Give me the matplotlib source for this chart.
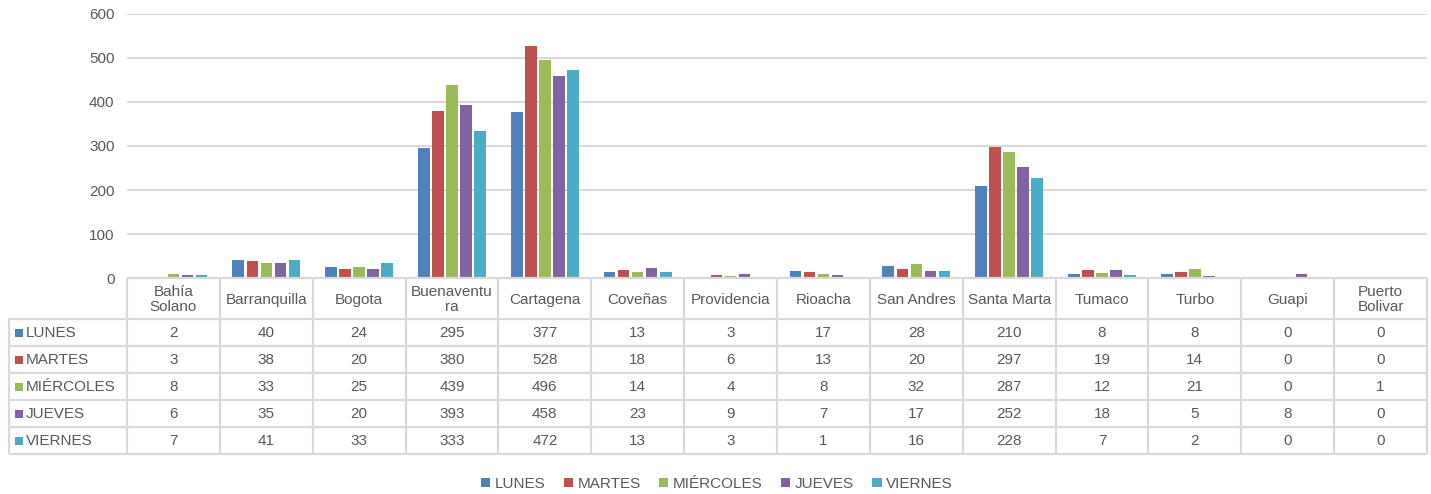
import numpy as np
import matplotlib
matplotlib.use("Agg")
import matplotlib.pyplot as plt

plt.rcParams['font.family'] = ['Liberation Sans', 'DejaVu Sans']

ciudades = ["Bahía\nSolano", "Barranquilla", "Bogota", "Buenaventu\nra", "Cartagena",
            "Coveñas", "Providencia", "Rioacha", "San Andres", "Santa Marta",
            "Tumaco", "Turbo", "Guapi", "Puerto\nBolivar"]
dias = ["LUNES", "MARTES", "MIÉRCOLES", "JUEVES", "VIERNES"]
lunes = [2, 40, 24, 295, 377, 13, 3, 17, 28, 210, 8, 8, 0, 0]
martes = [3, 38, 20, 380, 528, 18, 6, 13, 20, 297, 19, 14, 0, 0]
miercoles = [8, 33, 25, 439, 496, 14, 4, 8, 32, 287, 12, 21, 0, 1]
jueves = [6, 35, 20, 393, 458, 23, 9, 7, 17, 252, 18, 5, 8, 0]
viernes = [7, 41, 33, 333, 472, 13, 3, 1, 16, 228, 7, 2, 0, 0]
series = [lunes, martes, miercoles, jueves, viernes]
colores = ["#4F81BD", "#C0504D", "#9BBB59", "#8064A2", "#4BACC6"]

W, H = 1431, 494
GRID = "#D9D9D9"
TXT = "#595959"
FS = 11

fig = plt.figure(figsize=(W / 100, H / 100), dpi=100)

# main bar axes: plot area 127..1427 px wide, 14..278 px tall
ax = fig.add_axes([127 / W, 1 - 278 / H, 1300 / W, 264 / H])
n = len(ciudades)
x = np.arange(n)
step, width = 0.151, 0.124
for i, (vals, col) in enumerate(zip(series, colores)):
    ax.bar(x + (i - 2) * step, vals, width=width, color=col, label=dias[i], zorder=3)

ax.set_xlim(-0.5, n - 0.5)
ax.set_ylim(0, 600)
ax.set_yticks(np.arange(0, 601, 100))
ax.set_xticks([])
ax.tick_params(axis='y', length=0, pad=9, labelsize=FS, labelcolor=TXT)
ax.grid(axis='y', color=GRID, linewidth=1.5, zorder=0)
for s in ax.spines.values():
    s.set_visible(False)

# data table under the chart
unit = 1300 / n
left_x = -0.5 - (127 - 9) / unit
tax = fig.add_axes([9 / W, 40 / H, (1427 - 9) / W, 176 / H])
tax.set_xlim(left_x, n - 0.5)
tax.set_ylim(176, 0)
tax.axis('off')

header_h, row_h = 41, 27
row_edges = header_h + row_h * np.arange(len(dias) + 1)
col_edges = np.arange(n + 1) - 0.5

tax.hlines([0], -0.5, n - 0.5, color=GRID, linewidth=1.6, clip_on=False)
tax.hlines(row_edges, left_x, n - 0.5, color=GRID, linewidth=1.6, clip_on=False)
tax.vlines(col_edges, 0, row_edges[-1], color=GRID, linewidth=1.6, clip_on=False)
tax.vlines([left_x], header_h, row_edges[-1], color=GRID, linewidth=1.6, clip_on=False)

for j, c in enumerate(ciudades):
    tax.text(j, header_h / 2 + 1, c, ha='center', va='center', fontsize=FS,
             color=TXT, linespacing=1.05)

for i, (d, vals, col) in enumerate(zip(dias, series, colores)):
    yc = header_h + row_h * (i + 0.5)
    tax.scatter([left_x + 10 / unit], [yc], marker='s', s=30, color=col,
                clip_on=False, linewidths=0)
    tax.text(left_x + 17 / unit, yc + 0.5, d, ha='left', va='center',
             fontsize=FS, color=TXT)
    for j, v in enumerate(vals):
        tax.text(j, yc + 0.5, str(v), ha='center', va='center', fontsize=FS, color=TXT)

# legend at the bottom
handles, labels = ax.get_legend_handles_labels()
fig.legend(handles, labels, loc='center', bbox_to_anchor=(717 / W, 1 - 484 / H),
           ncol=5, frameon=False, fontsize=FS, labelcolor=TXT,
           handlelength=0.6, handleheight=0.6, handletextpad=0.3, columnspacing=1.2)

fig.savefig("out.png", dpi=100)
